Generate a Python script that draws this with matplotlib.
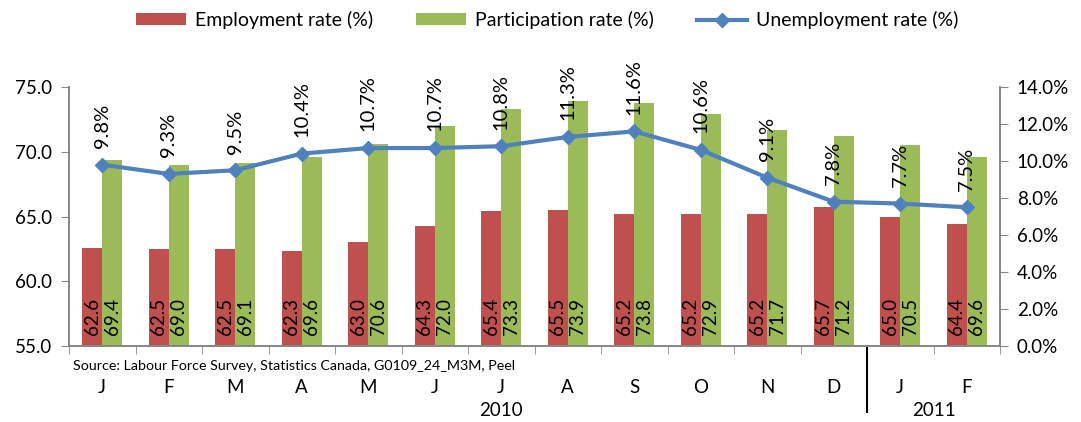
import matplotlib
matplotlib.use("Agg")
import matplotlib.pyplot as plt
import matplotlib.transforms as mtransforms
from matplotlib.ticker import FuncFormatter, MultipleLocator
import numpy as np

plt.rcParams['font.family'] = ['Lato', 'DejaVu Sans']

months = ["J", "F", "M", "A", "M", "J", "J", "A", "S", "O", "N", "D", "J", "F"]
employment = [62.6, 62.5, 62.5, 62.3, 63.0, 64.3, 65.4, 65.5, 65.2, 65.2, 65.2, 65.7, 65.0, 64.4]
participation = [69.4, 69.0, 69.1, 69.6, 70.6, 72.0, 73.3, 73.9, 73.8, 72.9, 71.7, 71.2, 70.5, 69.6]
unemployment = [9.8, 9.3, 9.5, 10.4, 10.7, 10.7, 10.8, 11.3, 11.6, 10.6, 9.1, 7.8, 7.7, 7.5]
years = ["2010", "2011"]
source = "Source: Labour Force Survey, Statistics Canada, G0109_24_M3M, Peel"

RED = "#C0504D"
GREEN = "#9BBB59"
BLUE = "#4F81BD"
GRAY = "#868686"
FS = 13.5

fig = plt.figure(figsize=(10.81, 4.22), dpi=100)
ax = fig.add_axes([69/1081, 1-346/422, (1000-69)/1081, (346-87)/422])
ax2 = ax.twinx()

n = len(months)
x = np.arange(n)
w = 0.3
b1 = ax.bar(x - w/2, [e - 55 for e in employment], w, bottom=55, color=RED, label="Employment rate (%)", zorder=2)
b2 = ax.bar(x + w/2, [p - 55 for p in participation], w, bottom=55, color=GREEN, label="Participation rate (%)", zorder=2)

for xi, e, p in zip(x, employment, participation):
    ax.annotate(f"{e:.1f}", (xi - w/2, 55), xytext=(0, 8), textcoords="offset points",
                rotation=90, ha="center", va="bottom", fontsize=13.5)
    ax.annotate(f"{p:.1f}", (xi + w/2, 55), xytext=(0, 8), textcoords="offset points",
                rotation=90, ha="center", va="bottom", fontsize=13.5)

ln, = ax2.plot(x, unemployment, color=BLUE, lw=3, marker="D", markersize=7, label="Unemployment rate (%)", zorder=3)
for xi, u in zip(x, unemployment):
    ax2.annotate(f"{u:.1f}%", (xi, u), xytext=(0, 12), textcoords="offset points",
                 rotation=90, ha="center", va="bottom", fontsize=14.5)

ax.set_xlim(-0.5, n - 0.5)
ax.set_ylim(55, 75)
ax2.set_ylim(0, 14)
ax.yaxis.set_major_locator(MultipleLocator(5))
ax.yaxis.set_major_formatter(FuncFormatter(lambda v, p: f"{v:.1f}"))
ax2.yaxis.set_major_locator(MultipleLocator(2))
ax2.yaxis.set_major_formatter(FuncFormatter(lambda v, p: f"{v:.1f}%"))

ax.set_xticks(x)
ax.set_xticklabels(months, fontsize=FS)
ax.set_xticks(np.arange(n + 1) - 0.5, minor=True)
ax.tick_params(axis="x", which="major", length=0, pad=24)
ax.tick_params(axis="x", which="minor", length=6, color=GRAY, direction="out")
ax.tick_params(axis="y", labelsize=FS, length=6, color=GRAY, direction="out", pad=6)
ax2.tick_params(axis="y", labelsize=FS, length=6, color=GRAY, direction="out", pad=6)

for a in (ax, ax2):
    a.spines["top"].set_visible(False)
    for s in ("left", "right", "bottom"):
        a.spines[s].set_color(GRAY)
        a.spines[s].set_linewidth(1.2)

trans = mtransforms.blended_transform_factory(ax.transData, ax.transAxes)
ax.plot([11.5, 11.5], [0, -(412-346)/259], color="black", lw=1.5, transform=trans, clip_on=False)
ax.text(6, -(410-346)/259, years[0], transform=trans, ha="center", va="center", fontsize=FS)
ax.text(12.5, -(410-346)/259, years[1], transform=trans, ha="center", va="center", fontsize=FS)
ax.text(0.004, -(366-346)/259, source, transform=ax.transAxes, ha="left", va="center", fontsize=10.3)

fig.legend(handles=[b1, b2, ln], loc="center", bbox_to_anchor=(0.506, 1-20/422), ncol=3,
           frameon=False, fontsize=14, handlelength=2.6, handletextpad=0.45, columnspacing=2.2,
           handleheight=0.55)

fig.savefig("out.png", dpi=100)
